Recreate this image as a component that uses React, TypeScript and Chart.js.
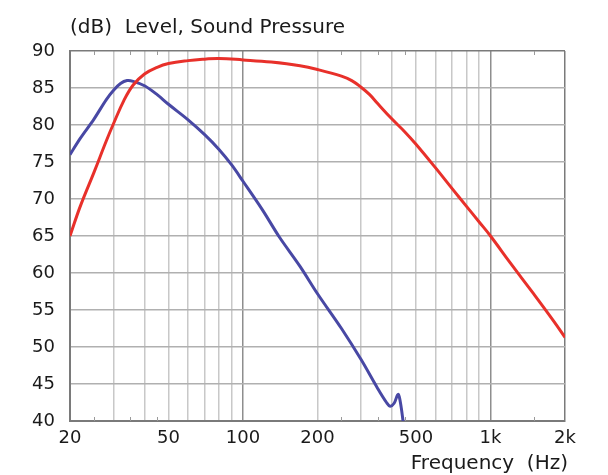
import React, { useEffect, useRef } from "react";
import { Chart, registerables } from "chart.js";

Chart.register(...registerables);

const redFreq = [20, 22, 25, 28, 30, 33, 36, 40, 45, 50, 60, 70, 80, 100, 130, 170, 200, 250, 275, 300, 325, 350, 400, 450, 500, 600, 700, 800, 900, 1000, 1200, 1500, 1800, 2000];
const redDb = [65, 69, 73.6, 77.8, 80.2, 83.3, 85.4, 86.9, 87.8, 88.3, 88.7, 88.9, 89, 88.8, 88.5, 88.0, 87.5, 86.6, 86.0, 85.1, 84.1, 82.9, 80.8, 79.1, 77.4, 74.2, 71.4, 69.0, 66.9, 65.0, 61.4, 57.1, 53.5, 51.3];

const blueFreq = [20, 22, 25, 28, 30, 32, 34, 36, 40, 45, 50, 60, 70, 80, 90, 100, 120, 140, 170, 200, 250, 300, 350, 380, 393, 408, 423, 432, 445];
const blueDb = [76, 78.2, 80.8, 83.4, 84.7, 85.6, 86, 85.9, 85.3, 84.1, 82.8, 80.7, 78.7, 76.7, 74.6, 72.4, 68.5, 64.9, 60.9, 57.2, 52.5, 48.3, 44.4, 42.5, 42, 42.4, 43.6, 42.6, 39.6];

const xGridValues = [20, 30, 40, 50, 60, 70, 80, 90, 100, 200, 300, 400, 500, 600, 700, 800, 900, 1000, 2000];
const xLabels: Record<number, string> = { 20: "20", 50: "50", 100: "100", 200: "200", 500: "500", 1000: "1k", 2000: "2k" };
const xMinorTicks = [25, 35, 45, 250, 350, 450, 1500];
const yTicks = [40, 45, 50, 55, 60, 65, 70, 75, 80, 85, 90];

const titleText = "(dB)  Level, Sound Pressure";
const xTitleText = "Frequency  (Hz)";

const FONT = "'DejaVu Sans', Verdana, sans-serif";
const TEXT = "#1a1a1a";

const overlayPlugin = {
  id: "overlay",
  afterDraw(chart: any) {
    const { ctx, chartArea, scales } = chart;
    const xs = scales.x;
    ctx.save();
    ctx.strokeStyle = "#9a9a9a";
    ctx.lineWidth = 1;
    for (const v of xMinorTicks) {
      const px = Math.round(xs.getPixelForValue(v)) + 0.5;
      ctx.beginPath();
      ctx.moveTo(px, chartArea.top);
      ctx.lineTo(px, chartArea.top + 4);
      ctx.moveTo(px, chartArea.bottom);
      ctx.lineTo(px, chartArea.bottom - 4);
      ctx.stroke();
    }
    ctx.fillStyle = TEXT;
    ctx.font = `20px ${FONT}`;
    ctx.textBaseline = "alphabetic";
    ctx.textAlign = "left";
    ctx.fillText(titleText, chartArea.left, chartArea.top - 18);
    ctx.textAlign = "right";
    ctx.fillText(xTitleText, chartArea.right + 3, chartArea.bottom + 48);
    ctx.restore();
  },
};

export default function App() {
  const ref = useRef<HTMLCanvasElement | null>(null);
  useEffect(() => {
    document.body.style.margin = "0";
    const canvas = ref.current!;
    const chart = new Chart(canvas, {
      type: "line",
      data: {
        datasets: [
          {
            data: redFreq.map((f, i) => ({ x: f, y: redDb[i] })),
            borderColor: "#e8302a",
            borderWidth: 3,
            pointRadius: 0,
            tension: 0.4,
          },
          {
            data: blueFreq.map((f, i) => ({ x: f, y: blueDb[i] })),
            borderColor: "#4848a4",
            borderWidth: 3,
            pointRadius: 0,
            tension: 0.35,
          },
        ],
      },
      options: {
        animation: false,
        responsive: false,
        layout: { padding: { top: 51, right: 43, left: 0, bottom: 0 } },
        plugins: { legend: { display: false }, tooltip: { enabled: false }, title: { display: false } },
        scales: {
          x: {
            type: "logarithmic",
            min: 20,
            max: 2000,
            afterBuildTicks: (s: any) => {
              s.ticks = xGridValues.map((v) => ({ value: v }));
            },
            afterFit: (s: any) => {
              s.height = 54;
            },
            ticks: {
              autoSkip: false,
              maxRotation: 0,
              padding: 7,
              color: TEXT,
              font: { family: FONT, size: 18 },
              callback: (v: any) => xLabels[Number(v)] ?? "",
            },
            grid: {
              drawTicks: false,
              lineWidth: 1.5,
              color: (c: any) => {
                const v = c.tick?.value;
                if (v === 2000 || v === 20) return "#7a7a7a";
                if (v === 100 || v === 1000) return "#8e8e8e";
                return "#c8c8c8";
              },
            },
            border: { display: true, color: "#7a7a7a", width: 2 },
            title: { display: false },
          },
          y: {
            min: 40,
            max: 90,
            afterBuildTicks: (s: any) => {
              s.ticks = yTicks.map((v) => ({ value: v }));
            },
            afterFit: (s: any) => {
              s.width = 70;
            },
            ticks: {
              padding: 15,
              color: TEXT,
              font: { family: FONT, size: 18 },
            },
            grid: {
              drawTicks: false,
              lineWidth: 1.5,
              color: (c: any) => (c.tick?.value === 90 ? "#7a7a7a" : "#b0b0b0"),
            },
            border: { display: true, color: "#7a7a7a", width: 2 },
          },
        },
      },
      plugins: [overlayPlugin],
    } as any);
    return () => chart.destroy();
  }, []);
  return (
    <div style={{ width: 608, height: 475, background: "#fff" }}>
      <canvas ref={ref} width={608} height={475} style={{ display: "block" }} />
    </div>
  );
}
